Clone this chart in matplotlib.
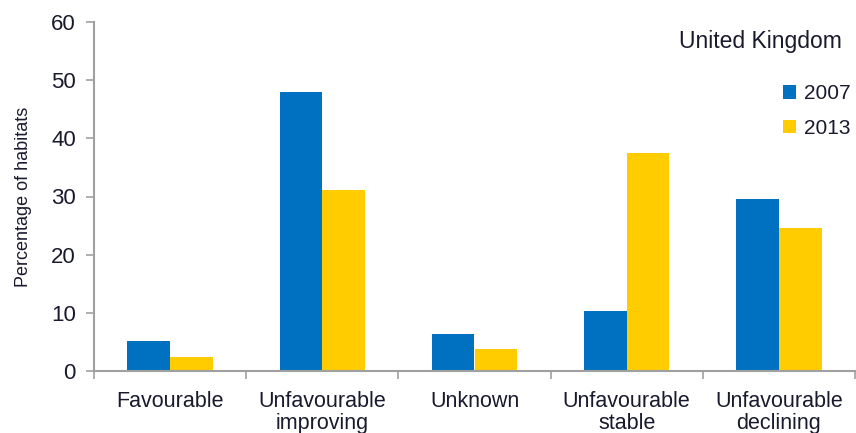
import matplotlib
matplotlib.use("Agg")
import matplotlib.pyplot as plt
import numpy as np

categories = ["Favourable", "Unfavourable\nimproving", "Unknown", "Unfavourable\nstable", "Unfavourable\ndeclining"]
values_2007 = [5.1, 47.9, 6.3, 10.3, 29.6]
values_2013 = [2.4, 31.1, 3.8, 37.5, 24.6]
series_labels = ["2007", "2013"]
title = "United Kingdom"

plt.rcParams['font.family'] = ['Liberation Sans', 'DejaVu Sans']
text_color = "#1a1a2e"
axis_color = "#a0a0a0"

fig = plt.figure(figsize=(8.56, 4.33), dpi=100)
ax = fig.add_axes([94/856, 62/433, (855-94)/856, (371-22)/433])

x = np.arange(len(categories))
w = 0.28
ax.bar(x - w/2, values_2007, w, color="#0070C0", label=series_labels[0])
ax.bar(x + w/2, values_2013, w, color="#FFCC00", label=series_labels[1])

ax.set_xlim(-0.5, len(categories) - 0.5)
ax.set_ylim(0, 60)
ax.set_yticks(range(0, 61, 10))
ax.set_xticks(np.arange(len(categories) + 1) - 0.5)
ax.set_xticklabels([])
ax.tick_params(axis='x', length=6, color=axis_color, width=1.2)
ax.tick_params(axis='y', length=6, color=axis_color, width=1.2, labelsize=16,
               labelcolor=text_color, pad=7)
for i, c in enumerate(categories):
    ax.text(i, -3.4, c, ha='center', va='top', fontsize=15.5, color=text_color,
            linespacing=1.05)

for s in ['top', 'right']:
    ax.spines[s].set_visible(False)
for s in ['left', 'bottom']:
    ax.spines[s].set_color(axis_color)
    ax.spines[s].set_linewidth(1.5)

ax.set_ylabel("Percentage of habitats", fontsize=13, color=text_color, labelpad=14)

ax.text(0.983, 0.945, title, transform=ax.transAxes, ha='right', va='center',
        fontsize=16.5, color=text_color)
leg = ax.legend(loc='upper right', bbox_to_anchor=(1.005, 0.845), frameon=False,
                fontsize=15, handlelength=0.6, handleheight=0.6, handletextpad=0.4,
                labelspacing=0.75, borderaxespad=0)
for t in leg.get_texts():
    t.set_color(text_color)

fig.savefig("out.png", dpi=100)
